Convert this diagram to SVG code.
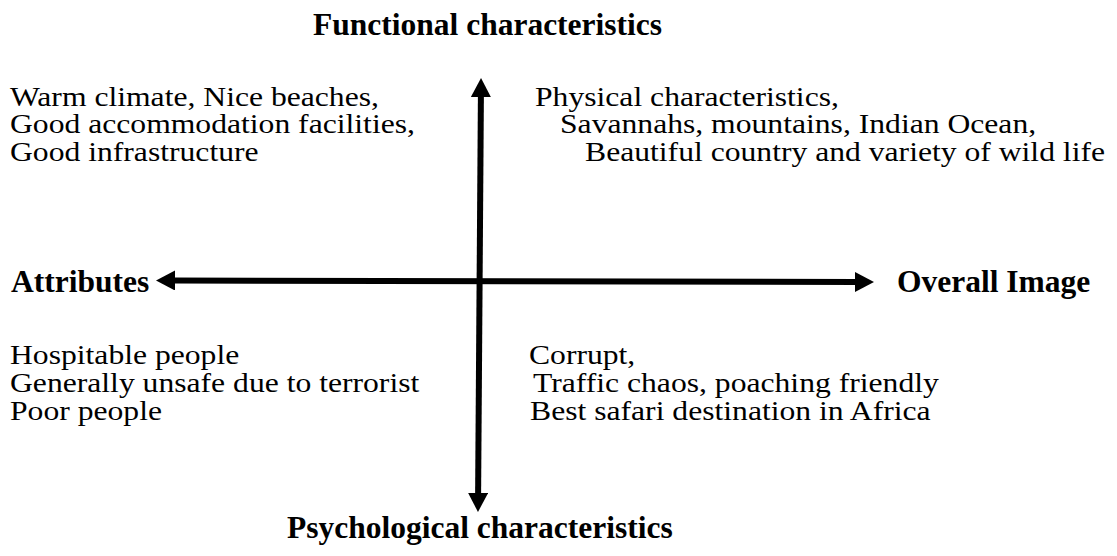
<svg xmlns="http://www.w3.org/2000/svg" width="1117" height="556" viewBox="0 0 1117 556">
<style>
.h{font-family:"Liberation Serif","Times New Roman",serif;font-weight:bold;font-size:31.5px;fill:#000}
.t{font-family:"Liberation Serif","Times New Roman",serif;font-size:26.7px;fill:#000}
.ax{stroke:#000;stroke-width:6;fill:none}
</style>
<defs>
<marker id="ah" viewBox="0 0 19 20" markerWidth="19" markerHeight="20" refX="1" refY="10" orient="auto-start-reverse" markerUnits="userSpaceOnUse">
<path d="M0,0 L19,10 L0,20 Z" fill="#000"/>
</marker>
</defs>
<rect width="1117" height="556" fill="#fff"/>
<g id="connectors">
<line class="ax" x1="480.9" y1="96" x2="478.1" y2="494" marker-start="url(#ah)" marker-end="url(#ah)"/>
<line class="ax" x1="174" y1="280.5" x2="856" y2="282" marker-start="url(#ah)" marker-end="url(#ah)"/>
</g>
<g id="functional"><text class="h" x="313" y="35">Functional characteristics</text></g>
<g id="attributes"><text class="h" x="11" y="292">Attributes</text></g>
<g id="overall"><text class="h" x="897" y="292">Overall Image</text></g>
<g id="psychological"><text class="h" x="287" y="538">Psychological characteristics</text></g>
<g id="q-top-left" transform="scale(1.185 1)">
<text class="t" x="8.44" y="106">Warm climate, Nice beaches,</text>
<text class="t" x="8.44" y="133.5">Good accommodation facilities,</text>
<text class="t" x="8.44" y="161">Good infrastructure</text>
</g>
<g id="q-top-right" transform="scale(1.185 1)">
<text class="t" x="451.5" y="106">Physical characteristics,</text>
<text class="t" x="472.6" y="133.5">Savannahs, mountains, Indian Ocean,</text>
<text class="t" x="493.7" y="161">Beautiful country and variety of wild life</text>
</g>
<g id="q-bottom-left" transform="scale(1.185 1)">
<text class="t" x="8.44" y="364">Hospitable people</text>
<text class="t" x="8.44" y="392">Generally unsafe due to terrorist</text>
<text class="t" x="8.44" y="420">Poor people</text>
</g>
<g id="q-bottom-right" transform="scale(1.185 1)">
<text class="t" x="446.4" y="364">Corrupt,</text>
<text class="t" x="449.8" y="392">Traffic chaos, poaching friendly</text>
<text class="t" x="447.3" y="420">Best safari destination in Africa</text>
</g>
</svg>
